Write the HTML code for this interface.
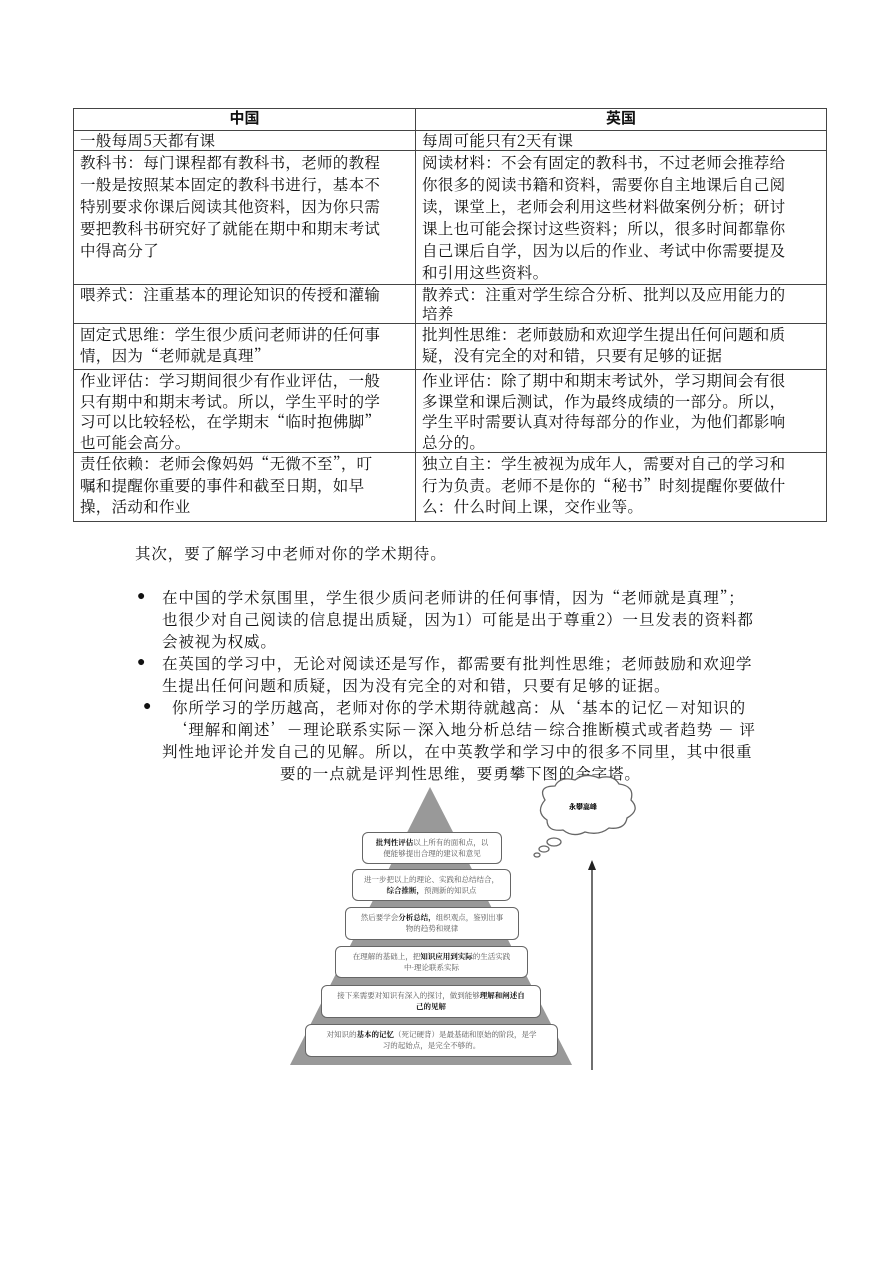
<!DOCTYPE html>
<html><head><meta charset="utf-8">
<style>
body{margin:0;background:#fff;}
#p{position:relative;width:892px;height:1262px;font-family:"Noto Serif CJK SC","Liberation Serif",serif;color:#111;}
table{position:absolute;left:73px;top:108px;width:754px;border-collapse:collapse;font-size:15.5px;line-height:21px;table-layout:fixed;}
td,th{border:1px solid #444;vertical-align:top;padding:0 6px;white-space:nowrap;overflow:hidden;}
td{letter-spacing:0.3px;}
th{font-weight:bold;text-align:center;line-height:20px;font-family:"Liberation Sans","Noto Sans CJK SC",sans-serif;font-size:15px;}
.t{position:absolute;font-size:15.5px;line-height:22px;letter-spacing:0.9px;white-space:nowrap;}
.b{position:absolute;font-size:14px;font-family:"Liberation Sans",sans-serif;}
.bx{position:absolute;background:#fff;border:1px solid #666;border-radius:6px;box-sizing:border-box;font-size:7.5px;line-height:11px;text-align:center;color:#555;padding-top:4px;font-family:"Noto Serif CJK SC",serif;}
.bx b{color:#111;}
</style></head><body><div id="p">
<table>
<tr style="height:22px"><th style="width:329px">中国</th><th>英国</th></tr>
<tr style="height:20px"><td style="line-height:19px">一般每周5天都有课</td><td style="line-height:19px">每周可能只有2天有课</td></tr>
<tr style="height:134px"><td style="line-height:22px">教科书：每门课程都有教科书，老师的教程<br>一般是按照某本固定的教科书进行，基本不<br>特别要求你课后阅读其他资料，因为你只需<br>要把教科书研究好了就能在期中和期末考试<br>中得高分了</td><td style="line-height:22px">阅读材料：不会有固定的教科书，不过老师会推荐给<br>你很多的阅读书籍和资料，需要你自主地课后自己阅<br>读，课堂上，老师会利用这些材料做案例分析；研讨<br>课上也可能会探讨这些资料；所以，很多时间都靠你<br>自己课后自学，因为以后的作业、考试中你需要提及<br>和引用这些资料。</td></tr>
<tr style="height:38px"><td style="line-height:19px">喂养式：注重基本的理论知识的传授和灌输</td><td style="line-height:19px">散养式：注重对学生综合分析、批判以及应用能力的<br>培养</td></tr>
<tr style="height:46px"><td>固定式思维：学生很少质问老师讲的任何事<br>情，因为“老师就是真理”</td><td>批判性思维：老师鼓励和欢迎学生提出任何问题和质<br>疑，没有完全的对和错，只要有足够的证据</td></tr>
<tr style="height:83px"><td style="line-height:20.5px">作业评估：学习期间很少有作业评估，一般<br>只有期中和期末考试。所以，学生平时的学<br>习可以比较轻松，在学期末“临时抱佛脚”<br>也可能会高分。</td><td style="line-height:20.5px">作业评估：除了期中和期末考试外，学习期间会有很<br>多课堂和课后测试，作为最终成绩的一部分。所以，<br>学生平时需要认真对待每部分的作业，为他们都影响<br>总分的。</td></tr>
<tr style="height:69px"><td style="line-height:21.5px">责任依赖：老师会像妈妈“无微不至”，叮<br>嘱和提醒你重要的事件和截至日期，如早<br>操，活动和作业</td><td style="line-height:21.5px">独立自主：学生被视为成年人，需要对自己的学习和<br>行为负责。老师不是你的“秘书”时刻提醒你要做什<br>么：什么时间上课，交作业等。</td></tr>
</table>

<div class="t" style="left:135px;top:542px">其次，要了解学习中老师对你的学术期待。</div>
<div class="b" style="left:137px;top:587px">●</div>
<div class="t" style="left:162px;top:586px">在中国的学术氛围里，学生很少质问老师讲的任何事情，因为“老师就是真理”；</div>
<div class="t" style="left:162px;top:608px">也很少对自己阅读的信息提出质疑，因为1）可能是出于尊重2）一旦发表的资料都</div>
<div class="t" style="left:162px;top:630px">会被视为权威。</div>
<div class="b" style="left:137px;top:653px">●</div>
<div class="t" style="left:162px;top:652px">在英国的学习中，无论对阅读还是写作，都需要有批判性思维；老师鼓励和欢迎学</div>
<div class="t" style="left:162px;top:674px">生提出任何问题和质疑，因为没有完全的对和错，只要有足够的证据。</div>
<div class="b" style="left:143px;top:697px">●</div>
<div class="t" style="left:172px;top:696px">你所学习的学历越高，老师对你的学术期待就越高：从‘基本的记忆－对知识的</div>
<div class="t" style="left:172px;top:718px">‘理解和阐述’－理论联系实际－深入地分析总结－综合推断模式或者趋势 － 评</div>
<div class="t" style="left:162px;top:740px">判性地评论并发自己的见解。所以，在中英教学和学习中的很多不同里，其中很重</div>
<div class="t" style="left:280px;top:762px">要的一点就是评判性思维，要勇攀下图的金字塔。</div>

<svg style="position:absolute;left:0;top:0" width="892" height="1262">
<polygon points="430,787 290,1065 572,1065" fill="#999"/>
<g fill="#fff" stroke="#666" stroke-width="1.3">
<path d="M545,800 q-8,-14 10,-14 q5,-10 20,-6 q10,-8 24,-2 q14,-4 20,6 q16,2 12,16 q10,10 -4,18 q-2,12 -18,10 q-10,8 -24,4 q-12,6 -22,-2 q-16,2 -16,-10 q-12,-8 -2,-20z"/>
<ellipse cx="554" cy="842" rx="7" ry="4"/>
<ellipse cx="544" cy="849" rx="5" ry="3"/>
<ellipse cx="537" cy="855" rx="3" ry="2"/>
</g>
<text x="583" y="809" font-size="7" font-weight="bold" text-anchor="middle" font-family="Noto Sans CJK SC,sans-serif">永攀高峰</text>
<line x1="592" y1="1070" x2="592" y2="866" stroke="#222" stroke-width="1.3"/>
<polygon points="592,860 588,870 596,870" fill="#222"/>
</svg>

<div class="bx" style="left:362px;top:832px;width:140px;height:32px"><b>批判性评估</b>以上所有的面和点，以<br>便能够提出合理的建议和意见</div>
<div class="bx" style="left:352px;top:869px;width:159px;height:32px">进一步把以上的理论、实践和总结结合，<br><b>综合推断，</b>预测新的知识点</div>
<div class="bx" style="left:345px;top:907px;width:174px;height:33px">然后要学会<b>分析总结，</b>组织观点，鉴别出事<br>物的趋势和规律</div>
<div class="bx" style="left:335px;top:946px;width:193px;height:32px">在理解的基础上，把<b>知识应用到实际</b>的生活实践<br>中-理论联系实际</div>
<div class="bx" style="left:321px;top:985px;width:220px;height:33px">接下来需要对知识有深入的探讨，做到能够<b>理解和阐述自<br>己的见解</b></div>
<div class="bx" style="left:305px;top:1024px;width:253px;height:33px">对知识的<b>基本的记忆</b>（死记硬背）是最基础和原始的阶段，是学<br>习的起始点，是完全不够的。</div>
</div></body></html>
